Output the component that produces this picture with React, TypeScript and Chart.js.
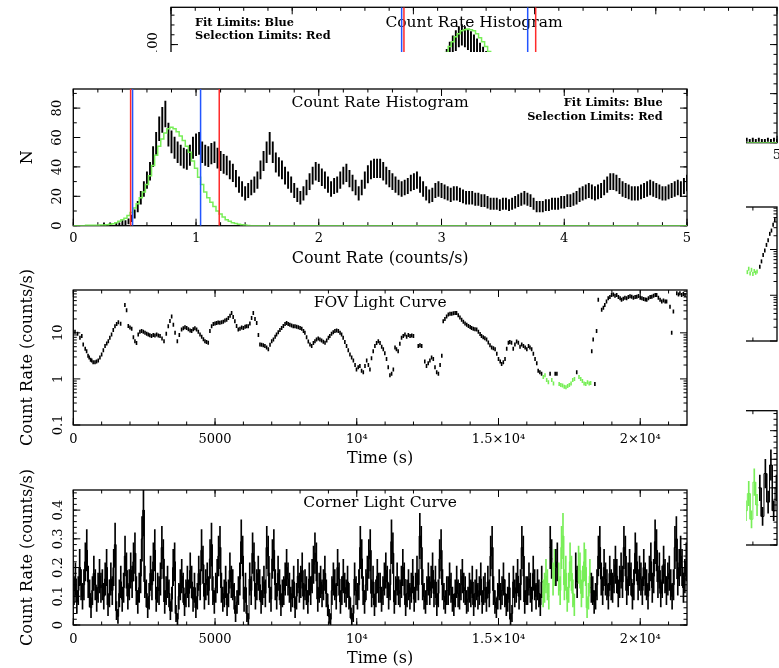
import React, { useEffect, useRef } from 'react';
import { Chart, registerables } from 'chart.js';

Chart.register(...registerables);

const FONT = "'DejaVu Serif', serif";
Chart.defaults.font.family = FONT;
Chart.defaults.color = '#000';

// ------------------------------------------------------------------ data
// Main figure: count-rate histogram (bin width 0.025 counts/s, starting at 0.2)
const HIST_BIN = 0.025;
const HIST_START = 0.2;
const HIST_COUNTS = [
  0, 0, 1, 0, 1, 0, 1, 1,
  2, 2, 3, 5, 8, 13, 19, 25,
  31, 37, 47, 56, 66, 72, 76, 62,
  57, 53, 50, 48, 46, 45, 48, 53,
  55, 56, 50, 48, 47, 49, 50, 46,
  44, 42, 41, 38, 36, 32, 28, 25,
  22, 24, 26, 28, 31, 38, 44, 50,
  56, 50, 43, 40, 38, 34, 31, 28,
  24, 21, 19, 22, 26, 30, 34, 37,
  36, 33, 31, 28, 25, 27, 28, 31,
  34, 36, 32, 29, 26, 22, 26, 31,
  35, 38, 39, 39, 39, 37, 34, 32,
  30, 28, 26, 25, 26, 27, 29, 30,
  31, 28, 25, 22, 20, 21, 24, 25,
  24, 23, 22, 21, 22, 22, 21, 20,
  19, 19, 19, 18, 18, 17, 17, 16,
  15, 15, 15, 14, 15, 15, 14, 15,
  16, 17, 18, 19, 18, 17, 15, 13,
  13, 13, 14, 14, 15, 15, 15, 16,
  16, 17, 17, 18, 19, 21, 22, 23,
  24, 23, 22, 23, 24, 26, 28, 30,
  30, 29, 27, 25, 24, 23, 22, 22,
  22, 23, 24, 25, 26, 25, 24, 23,
  22, 22, 23, 24, 25, 26, 25, 27,
  29,
];
// Gaussian fit (green step curve), same binning, starting at 0.2
const FIT_START = 0.2;
const FIT_CURVE = [
  0.3, 0.4, 0.5, 0.7, 1, 1.3, 2, 3, 4, 5, 7, 9, 12, 15, 19, 23, 28, 34, 41, 48,
  54, 59, 63, 66, 67, 66, 64, 61, 58, 54, 50, 44, 39, 33, 28, 23, 19, 16, 13, 10,
  8, 6, 4, 3, 2, 1.5, 1, 0.7, 0.4, 0.2, 0,
];
const FIT_LIMITS = [0.483, 1.037];
const SEL_LIMITS = [0.467, 1.189];
const HIST_X_RANGE = [0, 5];
const HIST_Y_RANGE = [0, 93];
const HIST_X_TICKS = [0, 1, 2, 3, 4, 5];
const HIST_X_LABELS = ['0', '1', '2', '3', '4', '5'];
const HIST_Y_TICKS = [0, 20, 40, 60, 80];
const HIST_Y_LABELS = ['0', '20', '40', '60', '80'];

// Main figure: FOV light curve [time (s), rate (counts/s)]
const FOV_SAMPLES = [
  [60, 10.5], [150, 9.5], [235, 7.8], [300, 8.5], [350, 5.6], [420, 4.5], [470, 4.0], [520, 3.2], [560, 2.9], [610, 2.6],
  [650, 2.5], [700, 2.3], [765, 2.3], [820, 2.4], [880, 2.5], [940, 2.9], [1000, 3.4], [1060, 4.2], [1120, 5.2], [1180, 5.9],
  [1235, 6.6], [1290, 7.8], [1350, 9.2], [1410, 11.5], [1470, 13.9], [1530, 15.5], [1590, 16.9], [1670, 15.8], [1820, 40], [1880, 31],
  [1940, 14], [2000, 13], [2060, 12.2], [2120, 8.0], [2175, 6.6], [2230, 6.0], [2290, 9.2], [2350, 10.5], [2410, 10.9], [2470, 10.5],
  [2530, 10.0], [2590, 9.6], [2645, 9.2], [2700, 8.9], [2760, 8.5], [2820, 9.0], [2880, 8.8], [2940, 9.2], [3000, 8.7], [3060, 8.5],
  [3130, 7.5], [3200, 6.6], [3280, 9.5], [3350, 13.9], [3410, 18], [3470, 22.6], [3530, 15], [3590, 10.0], [3670, 6.6], [3740, 9],
  [3820, 11.8], [3880, 12.5], [3940, 13.2], [4000, 12.8], [4060, 11.9], [4120, 11.2], [4175, 10.9], [4230, 12], [4290, 12.5], [4350, 11.8],
  [4410, 10.5], [4470, 9.2], [4530, 8.2], [4590, 7.3], [4645, 6.6], [4700, 6.3], [4760, 6.1], [4820, 11], [4880, 13.9], [4940, 15.5],
  [5000, 16], [5055, 16.4], [5110, 16.8], [5170, 16.6], [5230, 16.9], [5290, 17.5], [5350, 18.5], [5410, 19.3], [5470, 21], [5530, 23.5],
  [5585, 26.8], [5640, 22], [5700, 17.8], [5760, 14], [5820, 11.8], [5880, 12.2], [5940, 13], [6000, 12.8], [6060, 13.5], [6110, 13.9],
  [6170, 13.9], [6230, 16], [6290, 21], [6350, 26.8], [6410, 20], [6470, 16.4], [6530, 9.0], [6585, 5.6], [6640, 5.5], [6700, 5.4],
  [6760, 5.2], [6820, 4.8], [6880, 4.4], [6940, 5.5], [7000, 6.6], [7060, 7.2], [7120, 8.2], [7170, 9.2], [7230, 10.3], [7290, 11.5],
  [7350, 12.8], [7410, 14], [7470, 15.5], [7525, 16.4], [7580, 15.5], [7640, 15], [7700, 14.5], [7760, 13.9], [7820, 13.9], [7880, 13.5],
  [7940, 13.2], [8000, 12.8], [8060, 12.2], [8120, 11], [8170, 10.0], [8230, 8], [8290, 6.5], [8350, 5.6], [8410, 5.2], [8470, 6.0],
  [8525, 6.6], [8580, 7.2], [8640, 7.5], [8700, 7.2], [8760, 6.8], [8820, 6.4], [8880, 6.1], [8940, 6.8], [9000, 7.8], [9050, 8.5],
  [9110, 9.5], [9170, 10.3], [9230, 10.9], [9290, 11.2], [9350, 10.9], [9410, 10.0], [9465, 9.2], [9520, 7.8], [9580, 6.3], [9640, 5.2],
  [9700, 4.2], [9760, 3.4], [9820, 2.9], [9880, 2.5], [9940, 2.0], [9990, 1.6], [10050, 1.8], [10110, 1.9], [10170, 1.5], [10230, 1.4],
  [10290, 1.9], [10350, 2.5], [10410, 2.0], [10465, 1.6], [10520, 2.8], [10580, 4.0], [10640, 5.2], [10700, 6.0], [10760, 6.6], [10820, 6.0],
  [10880, 5.0], [10935, 4.4], [10990, 3.6], [11050, 2.7], [11110, 1.8], [11170, 1.2], [11230, 1.3], [11290, 1.6], [11350, 4.8], [11400, 4.4],
  [11460, 4.0], [11520, 5.8], [11580, 7.8], [11640, 8.5], [11700, 9.2], [11760, 8.2], [11820, 9.0], [11880, 8.5], [11940, 8.8], [12000, 8.5],
  [12170, 5.2], [12230, 5.4], [12290, 5.2], [12400, 2.4], [12460, 1.9], [12520, 2.2], [12580, 2.5], [12640, 2.9], [12700, 2.7], [12760, 1.8],
  [12820, 1.4], [12880, 1.3], [12940, 2.0], [13000, 3.2], [13050, 17.8], [13110, 20], [13170, 22.6], [13230, 25], [13290, 26], [13350, 25.9],
  [13410, 26.5], [13470, 27], [13520, 26.8], [13580, 24], [13640, 21.5], [13700, 19.3], [13760, 17.5], [13820, 16], [13880, 15], [13940, 14],
  [14000, 13.4], [14050, 12.8], [14110, 12.3], [14170, 12], [14230, 11.8], [14290, 10.5], [14350, 9.4], [14400, 8.5], [14460, 8], [14520, 7.6],
  [14580, 7.2], [14640, 6.2], [14700, 5.4], [14760, 4.8], [14820, 4.6], [14880, 4.4], [14940, 3.5], [15000, 2.7], [15060, 2.4], [15110, 2.1],
  [15170, 2.3], [15230, 2.7], [15290, 4.5], [15350, 6.1], [15400, 6.3], [15460, 6.1], [15520, 4.5], [15580, 5.6], [15640, 6.5], [15700, 6.1],
  [15760, 5.0], [15820, 5.6], [15880, 5.2], [15940, 4.8], [16000, 4.4], [16060, 5.2], [16110, 4.8], [16170, 4.4], [16230, 3.5], [16290, 2.7],
  [16350, 2.2], [16400, 1.5], [16460, 1.4], [16520, 1.3], [16580, 1.1], [16640, 1.2], [16700, 0.95], [16760, 0.85], [16820, 1.3], [16880, 0.95],
  [16940, 0.8], [17000, 1.3], [17060, 1.3], [17140, 0.78], [17200, 0.74], [17260, 0.72], [17320, 0.68], [17380, 0.66], [17440, 0.7], [17500, 0.74],
  [17560, 0.8], [17620, 0.95], [17680, 1.0], [17760, 1.4], [17840, 1.1], [17900, 1.0], [17960, 0.9], [18020, 0.8], [18080, 0.78], [18140, 0.85],
  [18200, 0.8], [18250, 0.82], [18290, 4.0], [18340, 7.2], [18400, 0.78], [18460, 10.9], [18520, 52], [18640, 31.6], [18700, 35], [18750, 40],
  [18810, 48], [18870, 56], [18930, 60], [18990, 66], [19050, 68], [19110, 64], [19170, 66], [19230, 60], [19290, 56], [19340, 52],
  [19400, 55], [19460, 58], [19520, 56], [19580, 60], [19640, 62], [19700, 61], [19760, 58], [19820, 60], [19880, 61], [19940, 63],
  [20000, 58], [20060, 56], [20120, 54], [20180, 53], [20230, 52], [20290, 56], [20350, 60], [20410, 61], [20470, 64], [20530, 66],
  [20580, 66], [20640, 58], [20700, 52], [20760, 48], [20820, 50], [20880, 48], [20930, 48], [21050, 37], [21110, 10], [21170, 29],
  [21290, 72], [21350, 68], [21400, 72], [21460, 66], [21520, 70], [21580, 66],
];
// Main figure: corner light curve, 50 s bins starting at t = 0
const CORNER_BIN = 50;
const CORNER_RATE = [
  0.12, 0.16, 0.08, 0.12, 0.20, 0.14, 0.10, 0.14, 0.22, 0.26, 0.15, 0.11, 0.06, 0.12, 0.18, 0.14, 0.09, 0.13, 0.17, 0.13,
  0.14, 0.10, 0.16, 0.20, 0.07, 0.11, 0.16, 0.12, 0.20, 0.28, 0.05, 0.03, 0.11, 0.15, 0.09, 0.13, 0.24, 0.19, 0.10, 0.14,
  0.19, 0.15, 0.22, 0.25, 0.12, 0.08, 0.13, 0.17, 0.30, 0.40, 0.15, 0.11, 0.06, 0.10, 0.18, 0.14, 0.22, 0.26, 0.09, 0.13,
  0.12, 0.16, 0.27, 0.23, 0.08, 0.12, 0.15, 0.11, 0.05, 0.09, 0.20, 0.22, 0.04, 0.02, 0.10, 0.14, 0.17, 0.13, 0.07, 0.11,
  0.15, 0.11, 0.19, 0.15, 0.09, 0.13, 0.06, 0.10, 0.18, 0.14, 0.26, 0.21, 0.10, 0.14, 0.16, 0.12, 0.23, 0.28, 0.12, 0.08,
  0.13, 0.17, 0.24, 0.27, 0.13, 0.09, 0.11, 0.15, 0.07, 0.11, 0.19, 0.15, 0.14, 0.10, 0.04, 0.08, 0.12, 0.16, 0.29, 0.24,
  0.09, 0.13, 0.04, 0.02, 0.16, 0.12, 0.25, 0.22, 0.10, 0.14, 0.18, 0.14, 0.08, 0.12, 0.15, 0.11, 0.27, 0.24, 0.13, 0.09,
  0.23, 0.26, 0.14, 0.10, 0.18, 0.14, 0.07, 0.11, 0.12, 0.16, 0.20, 0.16, 0.13, 0.09, 0.11, 0.15, 0.06, 0.10, 0.17, 0.13,
  0.15, 0.19, 0.10, 0.14, 0.12, 0.08, 0.16, 0.12, 0.17, 0.21, 0.25, 0.22, 0.09, 0.13, 0.15, 0.11, 0.14, 0.18, 0.11, 0.07,
  0.03, 0.02, 0.12, 0.16, 0.14, 0.10, 0.20, 0.16, 0.08, 0.12, 0.17, 0.13, 0.11, 0.15, 0.10, 0.06, 0.02, 0.04, 0.16, 0.12,
  0.10, 0.14, 0.27, 0.23, 0.12, 0.08, 0.14, 0.18, 0.23, 0.26, 0.11, 0.15, 0.07, 0.11, 0.17, 0.13, 0.13, 0.09, 0.12, 0.16,
  0.19, 0.15, 0.10, 0.14, 0.29, 0.25, 0.08, 0.12, 0.16, 0.12, 0.11, 0.15, 0.20, 0.16, 0.07, 0.11, 0.14, 0.10, 0.13, 0.17,
  0.09, 0.13, 0.18, 0.14, 0.31, 0.27, 0.14, 0.10, 0.08, 0.12, 0.16, 0.12, 0.15, 0.19, 0.11, 0.15, 0.07, 0.11, 0.23, 0.26,
  0.14, 0.10, 0.08, 0.12, 0.12, 0.16, 0.13, 0.09, 0.07, 0.11, 0.15, 0.11, 0.10, 0.14, 0.17, 0.13, 0.12, 0.08, 0.09, 0.13,
  0.11, 0.15, 0.07, 0.11, 0.14, 0.10, 0.12, 0.16, 0.08, 0.12, 0.13, 0.09, 0.15, 0.11, 0.24, 0.27, 0.12, 0.08, 0.06, 0.10,
  0.14, 0.10, 0.12, 0.16, 0.11, 0.07, 0.09, 0.13, 0.02, 0.04, 0.15, 0.11, 0.13, 0.17, 0.10, 0.14, 0.27, 0.24, 0.08, 0.12,
  0.12, 0.16, 0.13, 0.09, 0.18, 0.14, 0.10, 0.14, 0.11, 0.07, 0.15, 0.11, 0.13, 0.17, 0.14, 0.10, 0.27, 0.23, 0.16, 0.20,
  0.20, 0.22, 0.16, 0.12, 0.27, 0.31, 0.14, 0.18, 0.09, 0.13, 0.22, 0.18, 0.11, 0.07, 0.19, 0.15, 0.21, 0.19, 0.11, 0.15,
  0.22, 0.20, 0.06, 0.10, 0.17, 0.13, 0.12, 0.08, 0.10, 0.14, 0.24, 0.27, 0.16, 0.12, 0.20, 0.16, 0.14, 0.10, 0.18, 0.14,
  0.13, 0.17, 0.21, 0.17, 0.11, 0.15, 0.19, 0.15, 0.27, 0.24, 0.12, 0.16, 0.20, 0.16, 0.10, 0.14, 0.25, 0.22, 0.14, 0.18,
  0.16, 0.12, 0.20, 0.16, 0.14, 0.10, 0.18, 0.22, 0.13, 0.17, 0.29, 0.26, 0.15, 0.19, 0.11, 0.15, 0.21, 0.17, 0.12, 0.16,
  0.18, 0.14, 0.10, 0.14, 0.27, 0.30, 0.16, 0.20, 0.24, 0.20, 0.13, 0.17, 0.22, 0.18,
];
// Selected (green) time intervals of the main figure
const SELECTED_TIMES = [[16550, 16800], [16880, 16980], [17120, 17700], [17800, 18260]];
const TIME_RANGE = [0, 21650];
const TIME_TICKS = [0, 5000, 10000, 15000, 20000];
const TIME_LABELS = ['0', '5000', '10⁴', '1.5×10⁴', '2×10⁴'];
const FOV_Y_RANGE = [0.1, 85];
const FOV_Y_TICKS = [0.1, 1, 10];
const FOV_Y_LABELS = ['0.1', '1', '10'];
const CORNER_Y_RANGE = [0, 0.47];
const CORNER_Y_TICKS = [0, 0.1, 0.2, 0.3, 0.4];
const CORNER_Y_LABELS = ['0', '0.1', '0.2', '0.3', '0.4'];

// Background figure (partly hidden): visible pieces only
const A_HIST_PEAK_START = 2.25;
const A_HIST_PEAK = [80, 86, 93, 99, 104, 108, 110, 108, 105, 103, 100, 96, 92, 88, 84, 80, 76];
const A_HIST_TAIL_START = 4.75;
const A_HIST_TAIL = [3, 2, 3, 2, 3, 2, 2, 3, 2, 3, 2];
const A_FIT_START = 2.2;
const A_FIT_CURVE = [74, 80, 86, 92, 98, 103, 108, 111, 114, 115, 116, 115, 114, 111, 107, 103, 98, 93, 87, 81, 75];
const A_FIT_TAIL = [0, 0, 0, 0, 0, 0, 0, 0, 0, 0, 0];
const A_FIT_LIMITS = [1.903, 2.943];
const A_SEL_LIMITS = [1.922, 3.009];
const A_HIST_Y_RANGE = [0, 138];
const A_HIST_Y_TICKS = [0, 50, 100];
const A_HIST_Y_LABELS = ['0', '50', '100'];
const A_FOV_SAMPLES = [
  [20800, 3.2], [20850, 3.8], [20900, 3.0], [20950, 3.6], [21000, 2.9], [21050, 3.4], [21100, 3.1], [21150, 3.3],
  [21250, 4.2], [21310, 5.5], [21370, 7.6], [21430, 9.5], [21490, 12.6], [21550, 16], [21610, 22], [21670, 26], [21730, 35], [21790, 44],
];
const A_CORNER_BIN = 100;
const A_CORNER_START = 20700;
const A_CORNER_RATE = [0.12, 0.18, 0.09, 0.22, 0.14, 0.20, 0.10, 0.25, 0.15, 0.28, 0.12, 0.20];
const A_SELECTED_TIMES = [[20750, 21200]];
const A_TIME_RANGE = [0, 21870];

// ------------------------------------------------------------------ styling helpers
const GREEN = '#78ee58';
const RED = '#ff2a2a';
const BLUE = '#2255ff';
const AXW = 75;
const AXH = 43;
const PAD = { left: 6, top: 30, right: 26, bottom: 6 };

const range = (a: number, b: number, s: number) => {
  const r: number[] = [];
  for (let v = a; v <= b + s * 1e-6; v += s) r.push(+v.toFixed(6));
  return r;
};
const logMinor = (decades: number[], max: number) =>
  decades.flatMap((d) => [2, 3, 4, 5, 6, 7, 8, 9].map((k) => +(k * d).toFixed(6))).filter((v) => v <= max);
const inSel = (t: number, sel: number[][]) => sel.some(([a, b]) => t >= a && t <= b);

type Frame = { L: number; T: number; R: number; B: number };
type AxisSpec = {
  min: number; max: number; type?: string; ticks: number[]; labels: string[]; title?: string;
  labelPad: number; titlePad?: number; major: number[]; minor: number[];
};
type TextSpec = { text: string; anchor: 'left' | 'center' | 'right'; dx: number; dy: number; font: string };
type PanelSpec = { frame: Frame; x: AxisSpec; y: AxisSpec; datasets: any[]; texts: TextSpec[]; majorLen: number; minorLen: number };

function canvasBox(f: Frame) {
  const left = Math.floor(f.L - AXW - PAD.left);
  const top = Math.floor(f.T - PAD.top);
  const right = Math.ceil(f.R + PAD.right);
  const bottom = Math.ceil(f.B + AXH + PAD.bottom);
  return {
    left, top, width: right - left, height: bottom - top,
    padding: { left: f.L - AXW - left, top: f.T - top, right: right - f.R, bottom: bottom - f.B - AXH },
  };
}

function framePlugin(spec: PanelSpec) {
  return {
    id: 'pgframe',
    beforeDatasetsDraw(chart: any) {
      const { ctx, chartArea: a, scales } = chart;
      const xs = scales.x;
      const ys = scales.y;
      ctx.save();
      ctx.strokeStyle = '#000';
      ctx.lineWidth = 1;
      ctx.beginPath();
      const tx = (vals: number[], len: number) => vals.forEach((v) => {
        const p = xs.getPixelForValue(v);
        if (p < a.left - 0.5 || p > a.right + 0.5) return;
        ctx.moveTo(p, a.bottom); ctx.lineTo(p, a.bottom - len);
        ctx.moveTo(p, a.top); ctx.lineTo(p, a.top + len);
      });
      const ty = (vals: number[], len: number) => vals.forEach((v) => {
        const p = ys.getPixelForValue(v);
        if (p < a.top - 0.5 || p > a.bottom + 0.5) return;
        ctx.moveTo(a.left, p); ctx.lineTo(a.left + len, p);
        ctx.moveTo(a.right, p); ctx.lineTo(a.right - len, p);
      });
      tx(spec.x.minor, spec.minorLen);
      tx(spec.x.major, spec.majorLen);
      ty(spec.y.minor, spec.minorLen);
      ty(spec.y.major, spec.majorLen);
      ctx.stroke();
      ctx.lineWidth = 1.3;
      ctx.strokeRect(a.left, a.top, a.right - a.left, a.bottom - a.top);
      ctx.fillStyle = '#000';
      ctx.textBaseline = 'middle';
      spec.texts.forEach((t) => {
        ctx.font = t.font;
        let x = (a.left + a.right) / 2 + t.dx;
        ctx.textAlign = t.anchor;
        if (t.anchor === 'left') x = a.left + t.dx;
        if (t.anchor === 'right') x = a.right - t.dx;
        ctx.fillText(t.text, x, a.top + t.dy);
      });
      ctx.restore();
    },
  };
}

function axisOptions(a: AxisSpec, isX: boolean) {
  return {
    type: a.type ?? 'linear',
    position: isX ? 'bottom' : 'left',
    min: a.min,
    max: a.max,
    bounds: 'data',
    offset: false,
    grid: { display: false, drawTicks: false, offset: false },
    border: { display: false },
    afterBuildTicks: (s: any) => { s.ticks = a.ticks.map((v) => ({ value: v })); },
    afterFit: (s: any) => { if (isX) s.height = AXH; else s.width = AXW; },
    ticks: {
      autoSkip: false,
      color: '#000',
      padding: a.labelPad,
      font: { family: FONT, size: 13 },
      minRotation: isX ? 0 : 90,
      maxRotation: isX ? 0 : 90,
      crossAlign: isX ? 'near' : 'center',
      callback: (_v: any, i: number) => a.labels[i] ?? '',
    },
    title: {
      display: !!a.title,
      text: a.title ?? '',
      color: '#000',
      font: { family: FONT, size: 16 },
      padding: isX ? { top: 0, bottom: 0 } : { top: a.titlePad ?? 20, bottom: 0 },
    },
  };
}

function PanelCanvas({ spec }: { spec: PanelSpec }) {
  const ref = useRef<HTMLCanvasElement>(null);
  const box = canvasBox(spec.frame);
  useEffect(() => {
    const chart = new Chart(ref.current as HTMLCanvasElement, {
      type: 'line',
      data: { datasets: spec.datasets },
      options: {
        responsive: false,
        animation: false,
        devicePixelRatio: 1,
        events: [],
        layout: { padding: box.padding },
        plugins: { legend: { display: false }, tooltip: { enabled: false }, title: { display: false } },
        scales: { x: axisOptions(spec.x, true), y: axisOptions(spec.y, false) },
      } as any,
      plugins: [framePlugin(spec)],
    } as any);
    return () => chart.destroy();
  }, []);
  return (
    <canvas
      ref={ref}
      width={box.width}
      height={box.height}
      style={{ position: 'absolute', left: box.left, top: box.top, width: box.width, height: box.height }}
    />
  );
}

// ------------------------------------------------------------------ dataset builders
const stepPts = (start: number, bin: number, vals: number[]) => vals.map((v, i) => ({ x: start + i * bin, y: v }));
const poissonBars = (start: number, bin: number, vals: number[]) =>
  vals.map((n, i) => ({ x: start + i * bin, y: [n - Math.sqrt(n), n + Math.sqrt(n)] }));
const vline = (x: number, yr: number[], color: string) => ({
  type: 'line', data: [{ x, y: yr[0] }, { x, y: yr[1] }], borderColor: color, borderWidth: 1.5, pointRadius: 0, order: 0,
});
const greenStep = (data: any[]) => ({
  type: 'line', data, stepped: 'middle', borderColor: GREEN, borderWidth: 1.5, pointRadius: 0, order: 1,
});
const blackBars = (data: any[]) => ({
  type: 'bar', data, backgroundColor: '#000', borderWidth: 0, barThickness: 1.25, order: 2,
});
const fovPoints = (samples: number[][], sel: number[][], green: boolean) => ({
  type: 'line',
  data: samples.filter(([t]) => inSel(t, sel) === green).map(([t, r]) => ({ x: t, y: r })),
  showLine: false,
  pointStyle: 'line',
  pointRotation: 90,
  pointRadius: 2,
  pointBorderWidth: 1.6,
  pointBorderColor: green ? GREEN : '#000',
  pointBackgroundColor: green ? GREEN : '#000',
  order: green ? 1 : 2,
});
const binEdgeLine = (start: number, bin: number, vals: number[], sel: number[][], green: boolean) => {
  const pts: any[] = [];
  vals.forEach((v, i) => {
    const t0 = start + i * bin;
    const on = inSel(t0 + bin / 2, sel) === green;
    if (on) { pts.push({ x: t0, y: v }); pts.push({ x: t0 + bin, y: v }); }
    else if (pts.length && pts[pts.length - 1].y !== null) pts.push({ x: t0, y: null });
  });
  return {
    type: 'line', data: pts, borderColor: green ? GREEN : '#000', borderWidth: 1, pointRadius: 0,
    spanGaps: false, order: green ? 1 : 2,
  };
};
const rateBars = (start: number, bin: number, vals: number[], sel: number[][]) => ({
  type: 'bar',
  data: vals.map((v, i) => {
    const e = Math.sqrt(v * bin) / bin;
    return { x: start + i * bin + bin / 2, y: [Math.max(0, v - e), v + e] };
  }),
  backgroundColor: vals.map((_v, i) => (inSel(start + i * bin + bin / 2, sel) ? GREEN : '#000')),
  borderWidth: 0,
  barThickness: 1,
  order: 3,
});

const TITLE_FONT = `15.5px ${FONT}`;
const NOTE_FONT = `bold 11.3px ${FONT}`;

const timeAxis = (tr: number[], labelPad: number): AxisSpec => ({
  min: tr[0], max: tr[1], ticks: TIME_TICKS, labels: TIME_LABELS, title: 'Time (s)', labelPad,
  major: TIME_TICKS, minor: range(0, 21000, 1000),
});
const fovAxis = (labelPad: number): AxisSpec => ({
  type: 'logarithmic', min: FOV_Y_RANGE[0], max: FOV_Y_RANGE[1], ticks: FOV_Y_TICKS, labels: FOV_Y_LABELS,
  title: 'Count Rate (counts/s)', labelPad, titlePad: 20, major: FOV_Y_TICKS, minor: logMinor([0.1, 1, 10], FOV_Y_RANGE[1]),
});
const cornerAxis = (labelPad: number): AxisSpec => ({
  min: CORNER_Y_RANGE[0], max: CORNER_Y_RANGE[1], ticks: CORNER_Y_TICKS, labels: CORNER_Y_LABELS,
  title: 'Count Rate (counts/s)', labelPad, titlePad: 20, major: CORNER_Y_TICKS, minor: range(0, 0.46, 0.02),
});

// ------------------------------------------------------------------ panels
const B_HIST: PanelSpec = {
  frame: { L: 73.3, T: 89, R: 687, B: 225.7 },
  x: { min: HIST_X_RANGE[0], max: HIST_X_RANGE[1], ticks: HIST_X_TICKS, labels: HIST_X_LABELS, title: 'Count Rate (counts/s)', labelPad: 5, major: HIST_X_TICKS, minor: range(0, 5, 0.2) },
  y: { min: HIST_Y_RANGE[0], max: HIST_Y_RANGE[1], ticks: HIST_Y_TICKS, labels: HIST_Y_LABELS, title: 'N', labelPad: 7.5, titlePad: 20, major: HIST_Y_TICKS, minor: range(0, 90, 10) },
  majorLen: 7,
  minorLen: 3.5,
  datasets: [
    vline(SEL_LIMITS[0], HIST_Y_RANGE, RED),
    vline(SEL_LIMITS[1], HIST_Y_RANGE, RED),
    vline(FIT_LIMITS[0], HIST_Y_RANGE, BLUE),
    vline(FIT_LIMITS[1], HIST_Y_RANGE, BLUE),
    greenStep([{ x: HIST_X_RANGE[0], y: 0 }, ...stepPts(FIT_START, HIST_BIN, FIT_CURVE), { x: HIST_X_RANGE[1], y: 0 }]),
    blackBars(poissonBars(HIST_START, HIST_BIN, HIST_COUNTS)),
  ],
  texts: [
    { text: 'Count Rate Histogram', anchor: 'center', dx: 0, dy: 14.3, font: TITLE_FONT },
    { text: 'Fit Limits: Blue', anchor: 'right', dx: 24.3, dy: 14.3, font: NOTE_FONT },
    { text: 'Selection Limits: Red', anchor: 'right', dx: 24.3, dy: 27.7, font: NOTE_FONT },
  ],
};

const B_FOV: PanelSpec = {
  frame: { L: 73.3, T: 290, R: 687, B: 425 },
  x: timeAxis(TIME_RANGE, 7.2),
  y: fovAxis(4.5),
  majorLen: 7,
  minorLen: 3.5,
  datasets: [fovPoints(FOV_SAMPLES, SELECTED_TIMES, true), fovPoints(FOV_SAMPLES, SELECTED_TIMES, false)],
  texts: [{ text: 'FOV Light Curve', anchor: 'center', dx: 0, dy: 13.3, font: TITLE_FONT }],
};

const B_CORNER: PanelSpec = {
  frame: { L: 73.3, T: 490, R: 687, B: 625 },
  x: timeAxis(TIME_RANGE, 7.2),
  y: cornerAxis(4.7),
  majorLen: 7,
  minorLen: 3.5,
  datasets: [
    binEdgeLine(0, CORNER_BIN, CORNER_RATE, SELECTED_TIMES, true),
    binEdgeLine(0, CORNER_BIN, CORNER_RATE, SELECTED_TIMES, false),
    rateBars(0, CORNER_BIN, CORNER_RATE, SELECTED_TIMES),
  ],
  texts: [{ text: 'Corner Light Curve', anchor: 'center', dx: 0, dy: 13.3, font: TITLE_FONT }],
};

const A_HIST: PanelSpec = {
  frame: { L: 171, T: 7.3, R: 777, B: 142.7 },
  x: { min: HIST_X_RANGE[0], max: HIST_X_RANGE[1], ticks: HIST_X_TICKS, labels: HIST_X_LABELS, title: 'Count Rate (counts/s)', labelPad: 5, major: HIST_X_TICKS, minor: range(0, 5, 0.2) },
  y: { min: A_HIST_Y_RANGE[0], max: A_HIST_Y_RANGE[1], ticks: A_HIST_Y_TICKS, labels: A_HIST_Y_LABELS, title: 'N', labelPad: 5, titlePad: 20, major: A_HIST_Y_TICKS, minor: range(0, 130, 10) },
  majorLen: 7,
  minorLen: 3.5,
  datasets: [
    vline(A_SEL_LIMITS[0], A_HIST_Y_RANGE, RED),
    vline(A_SEL_LIMITS[1], A_HIST_Y_RANGE, RED),
    vline(A_FIT_LIMITS[0], A_HIST_Y_RANGE, BLUE),
    vline(A_FIT_LIMITS[1], A_HIST_Y_RANGE, BLUE),
    greenStep(stepPts(A_FIT_START, HIST_BIN, A_FIT_CURVE)),
    greenStep(stepPts(A_HIST_TAIL_START, HIST_BIN, A_FIT_TAIL)),
    blackBars([...poissonBars(A_HIST_PEAK_START, HIST_BIN, A_HIST_PEAK), ...poissonBars(A_HIST_TAIL_START, HIST_BIN, A_HIST_TAIL)]),
  ],
  texts: [
    { text: 'Count Rate Histogram', anchor: 'center', dx: 0, dy: 15.4, font: TITLE_FONT },
    { text: 'Fit Limits: Blue', anchor: 'left', dx: 24, dy: 15.5, font: NOTE_FONT },
    { text: 'Selection Limits: Red', anchor: 'left', dx: 24, dy: 28.4, font: NOTE_FONT },
  ],
};

const A_FOV: PanelSpec = {
  frame: { L: 171, T: 207, R: 777, B: 341 },
  x: timeAxis(A_TIME_RANGE, 7.2),
  y: fovAxis(4.5),
  majorLen: 7,
  minorLen: 3.5,
  datasets: [fovPoints(A_FOV_SAMPLES, A_SELECTED_TIMES, true), fovPoints(A_FOV_SAMPLES, A_SELECTED_TIMES, false)],
  texts: [{ text: 'FOV Light Curve', anchor: 'center', dx: 0, dy: 13.3, font: TITLE_FONT }],
};

const A_CORNER: PanelSpec = {
  frame: { L: 171, T: 410.7, R: 777, B: 545 },
  x: timeAxis(A_TIME_RANGE, 7.2),
  y: cornerAxis(4.7),
  majorLen: 7,
  minorLen: 3.5,
  datasets: [
    binEdgeLine(A_CORNER_START, A_CORNER_BIN, A_CORNER_RATE, A_SELECTED_TIMES, true),
    binEdgeLine(A_CORNER_START, A_CORNER_BIN, A_CORNER_RATE, A_SELECTED_TIMES, false),
    rateBars(A_CORNER_START, A_CORNER_BIN, A_CORNER_RATE, A_SELECTED_TIMES),
  ],
  texts: [{ text: 'Corner Light Curve', anchor: 'center', dx: 0, dy: 13.3, font: TITLE_FONT }],
};

const BACK_PANELS = [A_HIST, A_FOV, A_CORNER];
const FRONT_PANELS = [B_HIST, B_FOV, B_CORNER];

export default function App() {
  return (
    <div style={{ position: 'absolute', left: 0, top: 0, width: 779, height: 668, overflow: 'hidden', background: '#fff' }}>
      {BACK_PANELS.map((p, i) => <PanelCanvas key={'a' + i} spec={p} />)}
      <div style={{ position: 'absolute', left: 0, top: 52, width: 746, height: 616, background: '#fff' }} />
      {FRONT_PANELS.map((p, i) => <PanelCanvas key={'b' + i} spec={p} />)}
    </div>
  );
}
